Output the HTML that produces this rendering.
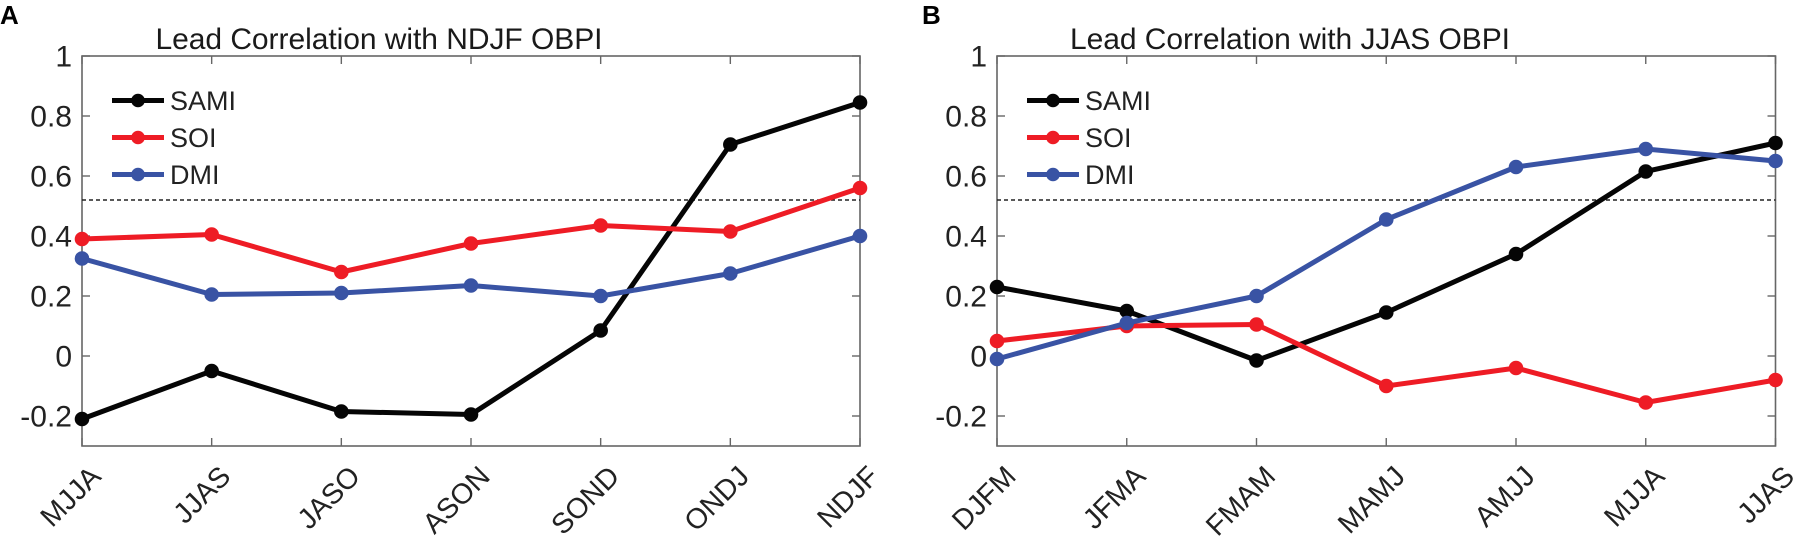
<!DOCTYPE html>
<html>
<head>
<meta charset="utf-8">
<title>Lead Correlation with OBPI</title>
<style>
html,body{margin:0;padding:0;background:#fff;width:1793px;height:539px;overflow:hidden}
svg{display:block;font-family:"Liberation Sans",Arial,sans-serif}
</style>
</head>
<body>
<svg id="figure" xmlns="http://www.w3.org/2000/svg" width="1793" height="539" viewBox="0 0 1793 539"></svg>
<script>
const yTicks = [-0.2, 0, 0.2, 0.4, 0.6, 0.8, 1];
const yTickLabels = ['-0.2', '0', '0.2', '0.4', '0.6', '0.8', '1'];
const threshold = 0.52;
const seriesNames = ['SAMI', 'SOI', 'DMI'];
const categoriesA = ['MJJA', 'JJAS', 'JASO', 'ASON', 'SOND', 'ONDJ', 'NDJF'];
const samiA = [-0.21, -0.05, -0.185, -0.195, 0.085, 0.705, 0.845];
const soiA = [0.39, 0.405, 0.28, 0.375, 0.435, 0.415, 0.56];
const dmiA = [0.325, 0.205, 0.21, 0.235, 0.2, 0.275, 0.4];
const categoriesB = ['DJFM', 'JFMA', 'FMAM', 'MAMJ', 'AMJJ', 'MJJA', 'JJAS'];
const samiB = [0.23, 0.15, -0.015, 0.145, 0.34, 0.615, 0.71];
const soiB = [0.05, 0.1, 0.105, -0.1, -0.04, -0.155, -0.08];
const dmiB = [-0.01, 0.11, 0.2, 0.455, 0.63, 0.69, 0.65];

const NS = 'http://www.w3.org/2000/svg';
const root = document.getElementById('figure');
const colors = { SAMI: '#050505', SOI: '#ee1c25', DMI: '#3953a4' };

function make(parent, tag, attrs, text) {
  const el = document.createElementNS(NS, tag);
  for (const k in attrs) el.setAttribute(k, attrs[k]);
  if (text !== undefined) el.textContent = text;
  parent.appendChild(el);
  return el;
}

function drawPanel(cfg) {
  const g = make(root, 'g', {});
  
  

  const left = cfg.left, right = cfg.right, top = 56, bottom = 446;
  const yMin = -0.3, yMax = 1;
  const x = i => left + (right - left) * i / (cfg.categories.length - 1);
  const y = v => bottom - (v - yMin) / (yMax - yMin) * (bottom - top);

  const letter = make(g, 'text', { x: cfg.letterX, y: 24, 'font-size': 26, 'font-weight': 700, fill: '#000' }, cfg.letter);
  
  

  const title = make(g, 'text', { x: cfg.titleX, y: 49, 'font-size': 30, fill: '#1a1a1a', textLength: cfg.titleWidth, lengthAdjust: 'spacing' }, cfg.title);
  
  

  const frame = make(g, 'rect', { x: left, y: top, width: right - left, height: bottom - top, fill: 'none', stroke: '#666', 'stroke-width': 1.6 });
  
  

  yTicks.forEach((t, i) => {
    const py = y(t);
    const tl = make(g, 'line', { x1: left, x2: left + 8, y1: py, y2: py, stroke: '#666', 'stroke-width': 1.4 });
    
    
    const tr = make(g, 'line', { x1: right, x2: right - 8, y1: py, y2: py, stroke: '#666', 'stroke-width': 1.4 });
    
    
    const lb = make(g, 'text', { x: left - 10, y: py + 10.5, 'font-size': 30, 'text-anchor': 'end', fill: '#222' }, yTickLabels[i]);
    
    
  });

  cfg.categories.forEach((c, i) => {
    const px = x(i);
    const tb = make(g, 'line', { x1: px, x2: px, y1: bottom, y2: bottom - 8, stroke: '#666', 'stroke-width': 1.4 });
    
    
    const tt = make(g, 'line', { x1: px, x2: px, y1: top, y2: top + 8, stroke: '#666', 'stroke-width': 1.4 });
    
    
    const lb = make(g, 'text', { x: 0, y: 0, 'font-size': 28.5, 'text-anchor': 'end', fill: '#222', transform: 'translate(' + (px + 20.5) + ' 478) rotate(-45)' }, c);
    
    
  });

  const ref = make(g, 'line', { x1: left, x2: right, y1: y(threshold), y2: y(threshold), stroke: '#222', 'stroke-width': 1.4, 'stroke-dasharray': '4 3' });
  
  

  seriesNames.forEach((name, si) => {
    const vals = cfg.series[si];
    const col = colors[name];
    const sg = make(g, 'g', {});
    
    
    const pl = make(sg, 'polyline', { points: vals.map((v, i) => x(i) + ',' + y(v)).join(' '), fill: 'none', stroke: col, 'stroke-width': 5, 'stroke-linejoin': 'round' });
    
    
    vals.forEach((v, i) => {
      const c = make(sg, 'circle', { cx: x(i), cy: y(v), r: 7.3, fill: col });
      
      
    });

    const ly = 100 + si * 37;
    const lx = left + 30;
    const lg = make(g, 'g', {});
    
    
    const ll = make(lg, 'line', { x1: lx, x2: lx + 52, y1: ly + 0.5, y2: ly + 0.5, stroke: col, 'stroke-width': 5 });
    
    
    const lc = make(lg, 'circle', { cx: lx + 26, cy: ly + 0.5, r: 6.8, fill: col });
    
    
    const lt = make(lg, 'text', { x: lx + 58, y: ly + 10, 'font-size': 27, fill: '#222' }, name);
    
    
  });
}

drawPanel({
  letter: 'A', letterX: 0, left: 82, right: 860,
  title: 'Lead Correlation with NDJF OBPI', titleX: 155.5, titleWidth: 447,
  categories: categoriesA, series: [samiA, soiA, dmiA]
});
drawPanel({
  letter: 'B', letterX: 922, left: 997, right: 1775.5,
  title: 'Lead Correlation with JJAS OBPI', titleX: 1070, titleWidth: 440,
  categories: categoriesB, series: [samiB, soiB, dmiB]
});
</script>
</body>
</html>
